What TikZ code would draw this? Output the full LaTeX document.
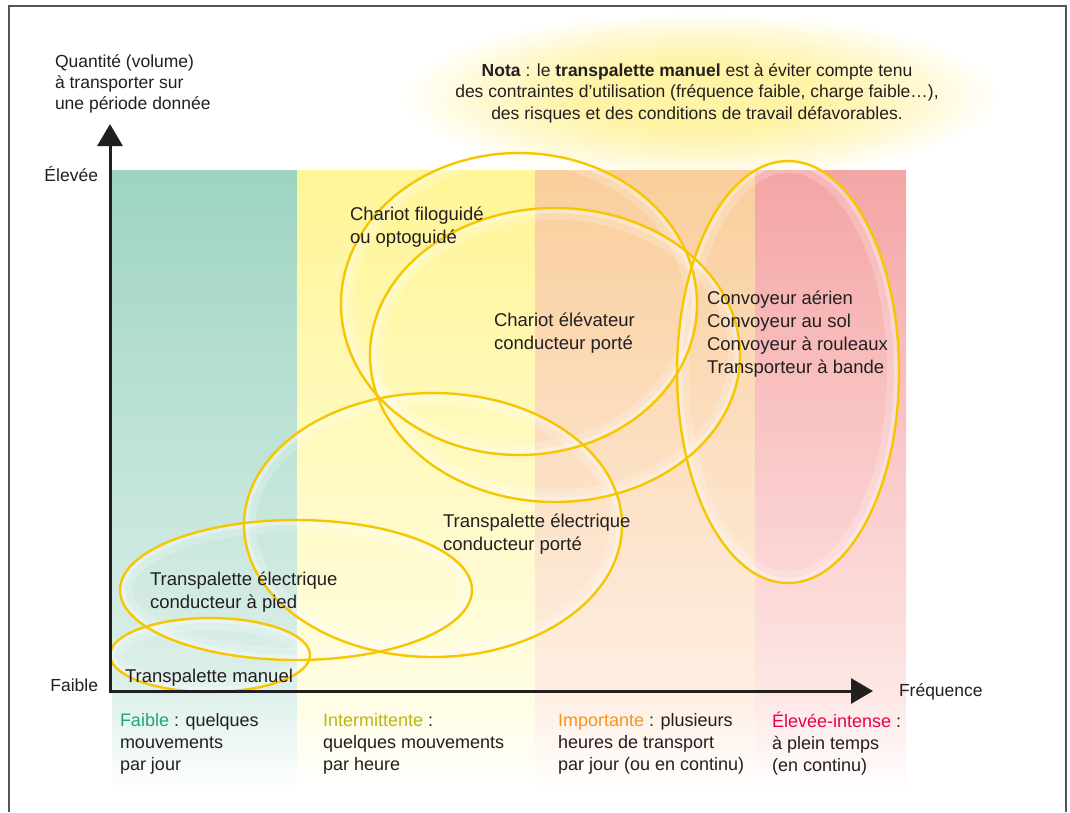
\documentclass[tikz,border=0pt]{standalone}
\usepackage{fontspec}
\setmainfont{Liberation Sans}
\usetikzlibrary{arrows.meta}
\definecolor{txt}{HTML}{231F20}
\definecolor{framec}{HTML}{555555}
\definecolor{ringc}{HTML}{F6C700}
\definecolor{glowin}{HTML}{FFF3A6}
\definecolor{glowmid}{HTML}{FFF8CF}
\definecolor{gA}{HTML}{9DD4C1}\definecolor{gB}{HTML}{DDF0EA}
\definecolor{yA}{HTML}{FFF596}\definecolor{yB}{HTML}{FFFDE2}
\definecolor{oA}{HTML}{F9CE9B}\definecolor{oB}{HTML}{FEEEE2}
\definecolor{pA}{HTML}{F4A5A5}\definecolor{pB}{HTML}{FDE6E4}
\definecolor{cFaible}{HTML}{1FA57E}
\definecolor{cInter}{HTML}{BAB70F}
\definecolor{cImport}{HTML}{F7941D}
\definecolor{cElev}{HTML}{E6004F}
\pgfdeclareradialshading{notaglow}{\pgfpoint{0bp}{0bp}}{color(0bp)=(glowin); color(10bp)=(glowin); color(18bp)=(glowmid); color(25bp)=(white); color(50bp)=(white)}
\newcommand{\ringdraw}[3]{%
  \begin{scope}
    \clip (#1) ellipse [x radius=#2, y radius=#3];
    \draw[haloA] (#1) ellipse [x radius=#2, y radius=#3];
    \draw[haloB] (#1) ellipse [x radius=#2, y radius=#3];
  \end{scope}}
\begin{document}
\begin{tikzpicture}[x=1pt,y=-1pt,
  every node/.style={text=txt, inner sep=0pt, outer sep=0pt},
  lab/.style={font=\fontsize{18.5}{23}\selectfont, align=left, anchor=west},
  foot/.style={font=\fontsize{18}{22}\selectfont, align=left, anchor=west},
  axlab/.style={font=\fontsize{17.5}{21}\selectfont},
  haloA/.style={draw=white, line width=24pt, opacity=0.2},
  haloB/.style={draw=white, line width=10pt, opacity=0.3},
  ring/.style={draw=ringc, line width=2.4pt},
  axis/.style={draw=txt, line width=3pt, line join=miter,
    {Triangle[length=22pt,width=25pt]}-{Triangle[length=22pt,width=25pt]}}]
\useasboundingbox (0,0) rectangle (1070,812);
\fill[white] (0,0) rectangle (1070,812);
% frame
\draw[framec, line width=1.3pt] (9,812) -- (9,6) -- (1066,6) -- (1066,812);
% nota glow
\shade[shading=notaglow] (700,96) ellipse [x radius=300, y radius=84];
% columns
\shade[top color=gA, bottom color=gB] (112,170) rectangle (297,691);
\shade[top color=gB, bottom color=white] (112,691) rectangle (297,792);
\shade[top color=yA, bottom color=yB] (297,170) rectangle (535,691);
\shade[top color=yB, bottom color=white] (297,691) rectangle (535,792);
\shade[top color=oA, bottom color=oB] (535,170) rectangle (755,691);
\shade[top color=oB, bottom color=white] (535,691) rectangle (755,792);
\shade[top color=pA, bottom color=pB] (755,170) rectangle (906,691);
\shade[top color=pB, bottom color=white] (755,691) rectangle (906,792);
% ellipse inner glows
\ringdraw{210,655}{100}{37}
\ringdraw{296,590}{176}{70}
\ringdraw{433,525}{189}{132}
\ringdraw{519,304}{178}{151}
\ringdraw{555,355}{185}{147}
\ringdraw{788,372}{111}{211}
% ellipses
\draw[ring] (210,655) ellipse [x radius=100, y radius=37];
\draw[ring] (296,590) ellipse [x radius=176, y radius=70];
\draw[ring] (433,525) ellipse [x radius=189, y radius=132];
\draw[ring] (519,304) ellipse [x radius=178, y radius=151];
\draw[ring] (555,355) ellipse [x radius=185, y radius=147];
\draw[ring] (788,372) ellipse [x radius=111, y radius=211];
% axes
\coordinate (O) at (110,691);
\coordinate (Ytip) at (110,124);
\coordinate (Xtip) at (873,691);
\draw[axis] (Ytip) -- (O) -- (Xtip);
% axis labels
\node[axlab, align=left, anchor=west] (qty) at (55,84) {Quantité (volume)\\à transporter sur\\une période donnée};
\node[axlab, anchor=east] (hi) at (98,174) {Élevée};
\node[axlab, anchor=east] (lo) at (98,685) {Faible};
\node[axlab, anchor=west] (freq) at (899,692) {Fréquence};
% nota
\node[font=\fontsize{17.5}{21.5}\selectfont, align=center] (nota) at (697,93)
  {\textbf{Nota} : le \textbf{transpalette manuel} est à éviter compte tenu\\des contraintes d'utilisation (fréquence faible, charge faible…),\\des risques et des conditions de travail défavorables.};
% ellipse labels
\node[lab] (filo) at (350,227) {Chariot filoguidé\\ou optoguidé};
\node[lab] (elev) at (494,333) {Chariot élévateur\\conducteur porté};
\node[lab] (conv) at (707,334) {Convoyeur aérien\\Convoyeur au sol\\Convoyeur à rouleaux\\Transporteur à bande};
\node[lab] (tep) at (443,534) {Transpalette électrique\\conducteur porté};
\node[lab] (tea) at (150,592) {Transpalette électrique\\conducteur à pied};
\node[lab] (tm) at (125,678) {Transpalette manuel};
% footer labels
\node[foot] (f1) at (120,744) {\textcolor{cFaible}{Faible} : quelques\\mouvements\\par jour};
\node[foot] (f2) at (323,744) {\textcolor{cInter}{Intermittente} :\\quelques mouvements\\par heure};
\node[foot] (f3) at (558,744) {\textcolor{cImport}{Importante} : plusieurs\\heures de transport\\par jour (ou en continu)};
\node[foot] (f4) at (772,744) {\textcolor{cElev}{Élevée-intense} :\\à plein temps\\(en continu)};
\end{tikzpicture}
\end{document}
